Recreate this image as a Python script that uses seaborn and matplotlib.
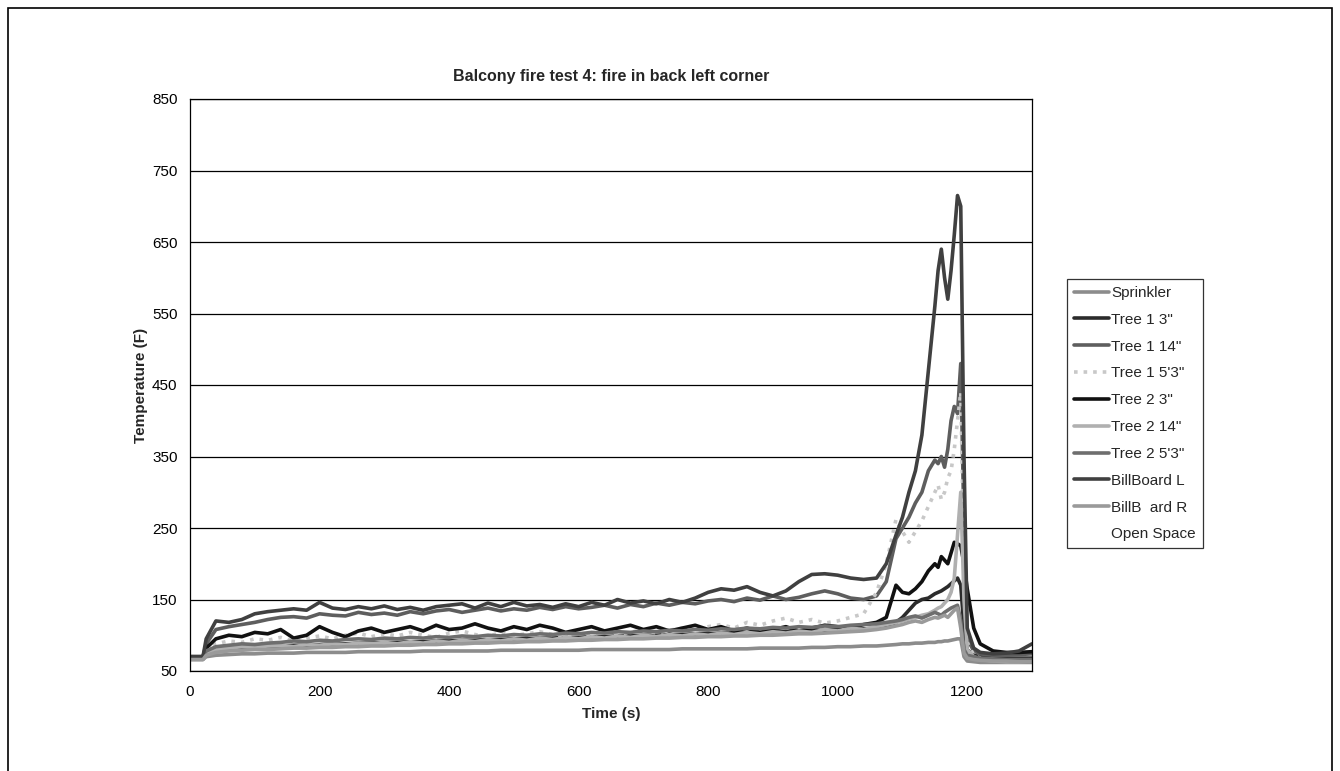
import pandas as pd
import numpy as np
import seaborn as sns
import matplotlib.pyplot as plt
from matplotlib.lines import Line2D
from matplotlib.patches import Rectangle

# time axis (s)
time_s = [0, 20, 25,
          40, 60, 80, 100, 120, 140, 160, 180, 200, 220, 240, 260, 280,
          300, 320, 340, 360, 380, 400, 420, 440, 460, 480, 500, 520, 540,
          560, 580, 600, 620, 640, 660, 680, 700, 720, 740, 760, 780, 800,
          820, 840, 860, 880, 900, 920, 940, 960, 980, 1000, 1020, 1040, 1060,
          1075, 1090, 1100, 1110, 1120, 1130, 1140, 1150, 1155, 1160, 1165, 1170,
          1175, 1180, 1185, 1190, 1195, 1200,
          1210, 1220, 1240, 1260, 1280, 1300]

sprinkler = [66, 66, 70,
             72, 73, 74, 74, 75, 75, 75, 76, 76, 76, 76, 77, 77,
             77, 77, 77, 78, 78, 78, 78, 78, 78, 79, 79, 79, 79,
             79, 79, 79, 80, 80, 80, 80, 80, 80, 80, 81, 81, 81,
             81, 81, 81, 82, 82, 82, 82, 83, 83, 84, 84, 85, 85,
             86, 87, 88, 88, 89, 89, 90, 90, 91, 91, 92, 92, 93, 94, 95, 95, 70, 64,
             63, 62, 62, 62, 62, 62]

tree1_3 = [68, 68, 75,
           80, 82, 83, 84, 85, 85, 86, 86, 87, 88, 88, 89, 89,
           90, 90, 91, 91, 92, 92, 93, 93, 94, 94, 95, 95, 96,
           96, 97, 97, 98, 98, 99, 99, 100, 100, 101, 101, 102, 102,
           103, 103, 104, 104, 105, 105, 106, 106, 107, 108, 108, 109, 110,
           112, 118, 125, 135, 145, 150, 152, 158, 160, 162, 165, 168, 172, 176, 180, 170, 110, 80,
           72, 70, 68, 68, 68, 68]

tree1_14 = [70, 70, 88,
            108, 112, 115, 118, 122, 125, 126, 124, 130, 128, 127, 132, 129,
            131, 128, 133, 130, 134, 136, 132, 135, 138, 134, 137, 135, 139,
            136, 140, 137, 139, 142, 138, 143, 140, 145, 142, 146, 144, 148,
            150, 147, 152, 149, 155, 150, 153, 158, 162, 158, 152, 150, 155,
            175, 235, 250, 265, 285, 300, 330, 345, 340, 350, 335, 360, 400, 420, 410, 480, 250, 95,
            78, 74, 72, 72, 73, 74]

tree1_53 = [70, 70, 80,
            88, 92, 90, 95, 93, 97, 92, 96, 99, 95, 100, 103, 98,
            102, 99, 104, 100, 97, 103, 106, 101, 98, 104, 100, 102, 105,
            101, 99, 103, 100, 106, 102, 104, 108, 103, 107, 110, 106, 112,
            115, 110, 118, 114, 120, 124, 118, 122, 117, 120, 125, 130, 160,
            200, 262, 245, 230, 245, 260, 280, 300, 310, 290, 300, 320, 330, 360, 400, 440, 200, 90,
            72, 68, 66, 65, 65, 66]

tree2_3 = [70, 70, 82,
           95, 100, 98, 104, 102, 108, 96, 100, 112, 104, 98, 106, 110,
           104, 108, 112, 106, 114, 108, 110, 116, 110, 106, 112, 108, 114,
           110, 104, 108, 112, 106, 110, 114, 108, 112, 106, 110, 114, 108,
           112, 106, 110, 104, 108, 112, 106, 110, 114, 112, 110, 115, 118,
           125, 170, 160, 158, 165, 175, 190, 200, 195, 210, 205, 200, 215, 230, 228, 225, 200, 165,
           110, 88, 78, 76, 76, 77]

tree2_14 = [68, 68, 74,
            80, 82, 84, 83, 85, 86, 84, 87, 86, 88, 87, 89, 88,
            90, 88, 91, 89, 92, 90, 93, 91, 94, 92, 95, 93, 96,
            94, 97, 95, 98, 96, 99, 97, 100, 98, 101, 99, 102, 100,
            103, 101, 104, 102, 105, 103, 106, 104, 108, 106, 110, 108, 112,
            115, 118, 120, 123, 125, 128, 130, 135, 138, 140, 145, 150, 160, 180, 240, 300, 150, 80,
            70, 66, 64, 63, 63, 64]

tree2_53 = [70, 70, 78,
            84, 86, 88, 87, 89, 90, 92, 91, 93, 92, 94, 95, 94,
            96, 95, 97, 96, 98, 97, 99, 98, 100, 99, 101, 100, 102,
            101, 103, 102, 104, 103, 105, 104, 106, 105, 107, 106, 108, 107,
            109, 108, 110, 109, 111, 110, 112, 111, 113, 112, 114, 115, 116,
            118, 120, 122, 125, 127, 124, 128, 132, 130, 128, 132, 135, 138, 140, 142, 120, 80, 72,
            70, 68, 67, 66, 66, 66]

billboard_l = [70, 70, 95,
               120, 118, 122, 130, 133, 135, 137, 135, 146, 138, 136, 140, 137,
               141, 136, 139, 135, 140, 142, 144, 138, 145, 140, 146, 141, 143,
               139, 144, 140, 146, 142, 150, 145, 148, 144, 150, 146, 152, 160,
               165, 163, 168, 160, 155, 162, 175, 185, 186, 184, 180, 178, 180,
               200, 240, 265, 300, 330, 380, 470, 560, 610, 640, 600, 570, 610, 660, 715, 700, 350, 110,
               82, 76, 74, 75, 78, 88]

billboard_r = [66, 66, 72,
               76, 78, 79, 80, 80, 81, 82, 82, 83, 83, 84, 84, 85,
               85, 86, 86, 87, 87, 88, 88, 89, 89, 90, 90, 91, 91,
               92, 92, 93, 93, 94, 94, 95, 95, 96, 96, 97, 97, 98,
               98, 99, 99, 100, 100, 101, 102, 102, 103, 104, 105, 106, 108,
               110, 113, 115, 118, 120, 118, 122, 125, 124, 126, 128, 125, 130, 135, 138, 110, 75, 68,
               66, 65, 64, 64, 63, 63]

series = {
    "Sprinkler": (sprinkler, "#8c8c8c", "-"),
    "Tree 1 3\"": (tree1_3, "#2b2b2b", "-"),
    "Tree 1 14\"": (tree1_14, "#5e5e5e", "-"),
    "Tree 1 5'3\"": (tree1_53, "#c8c8c8", ":"),
    "Tree 2 3\"": (tree2_3, "#111111", "-"),
    "Tree 2 14\"": (tree2_14, "#b0b0b0", "-"),
    "Tree 2 5'3\"": (tree2_53, "#6e6e6e", "-"),
    "BillBoard L": (billboard_l, "#404040", "-"),
    "BillB  ard R": (billboard_r, "#9a9a9a", "-"),
}

sns.set_style("white")
plt.rcParams['font.family'] = ['Liberation Sans', 'DejaVu Sans']

fig = plt.figure(figsize=(13.4, 7.71), dpi=100)
ax = fig.add_axes([190 / 1340, 100 / 771, (1032 - 190) / 1340, (671 - 99) / 771])

handles = []
for name, (vals, col, ls) in series.items():
    df = pd.DataFrame({"Time (s)": time_s, "Temperature (F)": vals})
    sns.lineplot(data=df, x="Time (s)", y="Temperature (F)", ax=ax, color=col,
                 linestyle=ls, linewidth=2.6, legend=False)
    handles.append(Line2D([0], [0], color=col, linestyle=ls, linewidth=2.6, label=name))
handles.append(Line2D([0], [0], color="none", label="Open Space"))

ax.set_xlim(0, 1300)
ax.set_ylim(50, 850)
ax.set_xticks([0, 200, 400, 600, 800, 1000, 1200])
ax.set_yticks([50, 150, 250, 350, 450, 550, 650, 750, 850])
ax.yaxis.grid(True, color="black", linewidth=0.9)
ax.xaxis.grid(False)
for s in ax.spines.values():
    s.set_color("black")
    s.set_linewidth(0.9)
ax.tick_params(axis="both", length=0, labelsize=11, colors="black")
ax.tick_params(axis="x", pad=10)
ax.tick_params(axis="y", pad=9)
ax.set_xlabel("Time (s)", fontsize=11, fontweight="bold", labelpad=6)
ax.set_ylabel("Temperature (F)", fontsize=11, fontweight="bold", labelpad=3)

fig.text(0.5 * (190 + 1032) / 1340, (771 - 77) / 771,
         "Balcony fire test 4: fire in back left corner",
         ha="center", va="center", fontsize=11.5, fontweight="bold")

leg = fig.legend(handles=handles, loc="upper left",
                 bbox_to_anchor=(1067 / 1340, (771 - 279) / 771),
                 bbox_transform=fig.transFigure, frameon=True, fancybox=False,
                 fontsize=11, handlelength=2.3, handletextpad=0.15,
                 labelspacing=0.84, borderpad=0.45, borderaxespad=0)
leg.get_frame().set_edgecolor("black")
leg.get_frame().set_linewidth(0.9)

fig.patches.append(Rectangle((8 / 1340, -0.02), (1332 - 8) / 1340, (763 / 771) + 0.02,
                             transform=fig.transFigure, fill=False,
                             edgecolor="black", linewidth=1.2))

fig.savefig("out.png", dpi=100)
